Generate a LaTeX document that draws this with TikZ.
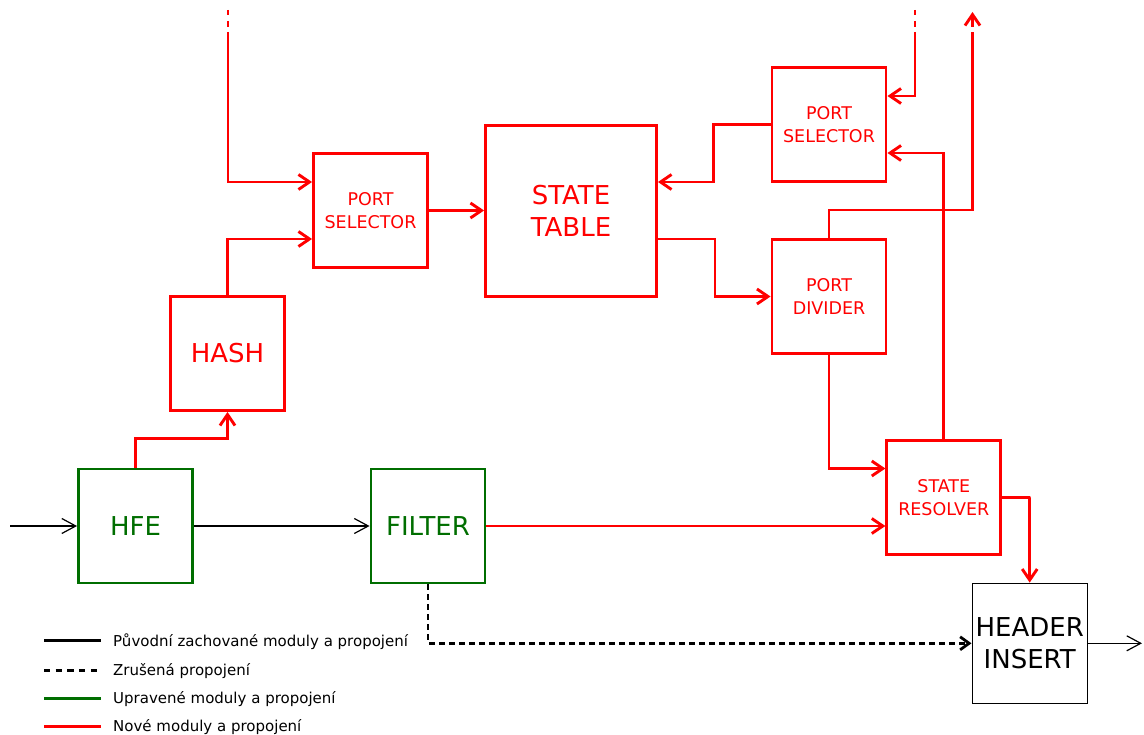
\documentclass[tikz,border=0pt]{standalone}
\usepackage{fontspec}
\setmainfont{DejaVu Sans}
\usetikzlibrary{arrows.meta}
\definecolor{newred}{RGB}{255,0,0}
\definecolor{modgreen}{RGB}{0,110,0}

\begin{document}
\begin{tikzpicture}[x=1pt,y=-1pt,
  box/.style={draw, line width=2.9pt, minimum width=114pt, minimum height=114pt,
              inner sep=0pt, align=center},
  newbox/.style={box, draw=newred, text=newred},
  modbox/.style={box, draw=modgreen, text=modgreen, font=\fontsize{26}{31}\selectfont},
  smalltext/.style={font=\fontsize{17.5}{22.5}\selectfont},
  bigtext/.style={font=\fontsize{26}{31.5}\selectfont},
  newlink/.style={draw=newred, line width=2.9pt, -{Straight Barb[length=11pt,width=15pt]}},
  oldlink/.style={draw=black, line width=1.2pt, -{Straight Barb[length=14pt,width=15pt]}},
  droplink/.style={draw=black, line width=2.8pt, dash pattern=on 5.5pt off 4.5pt,
                   -{Straight Barb[length=9pt,width=13pt]}},
  cutend/.style={dash pattern=on 5pt off 6pt on 6pt off 5pt on 2000pt},
  legendline/.style={line width=3pt},
  legendtext/.style={anchor=base west, inner sep=0pt, font=\fontsize{15}{18}\selectfont},
]
\useasboundingbox (0,0) rectangle (1144,735);

% modules
\node[modbox] (hfe) at (135.5,526) {HFE};
\node[modbox] (filter) at (428,526) {FILTER};
\node[newbox,bigtext] (hash) at (227.5,353.5) {HASH};
\node[newbox,smalltext] (psl) at (370.5,210.5) {PORT\\SELECTOR};
\node[newbox,bigtext,minimum width=171pt,minimum height=171pt] (table) at (571,211) {STATE\\TABLE};
\node[newbox,smalltext] (psr) at (829,124.5) {PORT\\SELECTOR};
\node[newbox,smalltext] (div) at (829,296.5) {PORT\\DIVIDER};
\node[newbox,smalltext] (res) at (943.8,497.5) {STATE\\RESOLVER};
\node[box, line width=1.4pt, minimum width=115pt, minimum height=120pt, bigtext] (hdr)
  at (1029.7,643.3) {HEADER\\INSERT};

% free ends
\coordinate (in) at (10,526);
\coordinate (out) at (1142,643.3);
\coordinate (topA) at (228,10);
\coordinate (topB) at (915,10);
\coordinate (upA) at (972.5,32);
\coordinate (upB) at (972.5,27);
\coordinate (upC) at (972.5,12);

% original connections
\draw[oldlink] (in) -- (hfe.west);
\draw[oldlink] (hfe.east) -- (filter.west);
\draw[oldlink] (hdr.east) -- (out);

% removed connection
\draw[droplink] (filter.south) |- (hdr.west);

% new connections
\draw[newlink] (hfe.north) -- ++(0,-29) -| (hash.south);
\draw[newlink] (hash.north) |- ([yshift=-28.5pt]psl.west);
\draw[newlink,cutend] (topA) |- ([yshift=28.5pt]psl.west);
\draw[newlink] (psl.east) -- (psl.east -| table.west);
\draw[newlink] ([yshift=-28pt]table.east) -- ++(57,0) |- (div.west);
\draw[newlink] (psr.west) -- ++(-57,0) |- ([yshift=29pt]table.east);
\draw[newlink,cutend] (topB) |- ([yshift=28.5pt]psr.east);
\draw[newlink] (res.north) |- ([yshift=-28.5pt]psr.east);
\draw[newlink,-] (div.north) -- ++(0,-28) -| (upA);
\draw[newlink] (upB) -- (upC);
\draw[newlink] (div.south) |- ([yshift=29pt]res.west);
\draw[newlink] (filter.east) -- (filter.east -| res.west);
\draw[newlink] (res.east) -- ++(28,0) -| (hdr.north);

% legend
\draw[legendline, black] (44,640.7) -- (101,640.7);
\draw[legendline, black, dash pattern=on 6.2pt off 5.5pt] (44,670) -- (97.5,670);
\draw[legendline, modgreen] (44,698.3) -- (101,698.3);
\draw[legendline, newred] (44,726.7) -- (101,726.7);
\node[legendtext] (lg1) at (113,646.7) {Původní zachované moduly a propojení};
\node[legendtext] (lg2) at (113,675) {Zrušená propojení};
\node[legendtext] (lg3) at (113,703.3) {Upravené moduly a propojení};
\node[legendtext] (lg4) at (113,731.7) {Nové moduly a propojení};
\end{tikzpicture}
\end{document}
